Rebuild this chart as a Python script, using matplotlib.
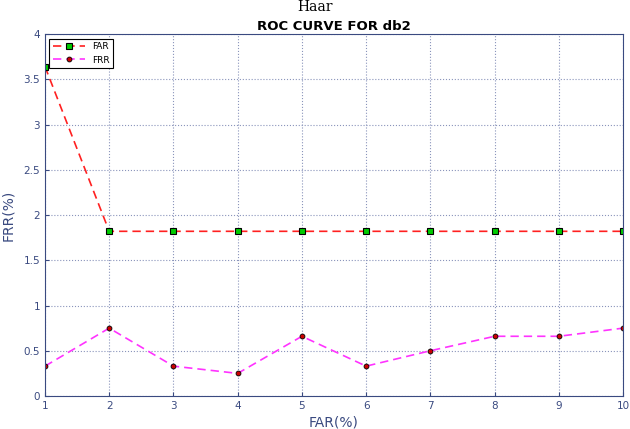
import matplotlib.pyplot as plt
import numpy as np

far_x = [1, 2, 3, 4, 5, 6, 7, 8, 9, 10]
far_vals = [3.64, 1.82, 1.82, 1.82, 1.82, 1.82, 1.82, 1.82, 1.82, 1.82]
frr_vals = [0.33, 0.75, 0.33, 0.25, 0.66, 0.33, 0.5, 0.66, 0.66, 0.75]

axcol = '#3a4a80'

fig = plt.figure(figsize=(6.3, 4.29), dpi=100)
ax = fig.add_axes([0.0714, 0.0769, 0.9176, 0.8438])

ax.plot(far_x, far_vals, linestyle=(0, (5, 3)), color='#ff2020', linewidth=1.2,
        marker='s', markersize=4.5, markerfacecolor='#00cc00', markeredgecolor='black',
        markeredgewidth=0.8, label='FAR')
ax.plot(far_x, frr_vals, linestyle=(0, (5, 3)), color='#ff33ff', linewidth=1.2,
        marker='o', markersize=3.5, markerfacecolor='#cc0000', markeredgecolor='black',
        markeredgewidth=0.6, label='FRR')

ax.set_xlim(1, 10)
ax.set_ylim(0, 4)
ax.set_xticks(np.arange(1, 11))
ax.set_yticks(np.arange(0, 4.01, 0.5))
ax.set_yticklabels(['0', '0.5', '1', '1.5', '2', '2.5', '3', '3.5', '4'])
ax.grid(True, linestyle=':', color='#8a94bb', linewidth=0.8)
for s in ax.spines.values():
    s.set_color(axcol)
ax.tick_params(colors=axcol, labelsize=7.5, direction='in', length=3)

ax.set_xlabel('FAR(%)', color=axcol, fontsize=10, labelpad=3)
ax.set_ylabel('FRR(%)', color=axcol, fontsize=10, labelpad=6)

fig.text(0.5, 0.999, 'Haar', ha='center', va='top', family='serif', fontsize=10)
ax.set_title('ROC CURVE FOR db2', fontsize=9.5, fontweight='bold', pad=3)

leg = ax.legend(loc='upper left', fontsize=6.5, fancybox=False, framealpha=1,
                edgecolor='black', handlelength=3.5, borderaxespad=0.5)
leg.get_frame().set_linewidth(0.8)

fig.savefig('out.png', dpi=100)
